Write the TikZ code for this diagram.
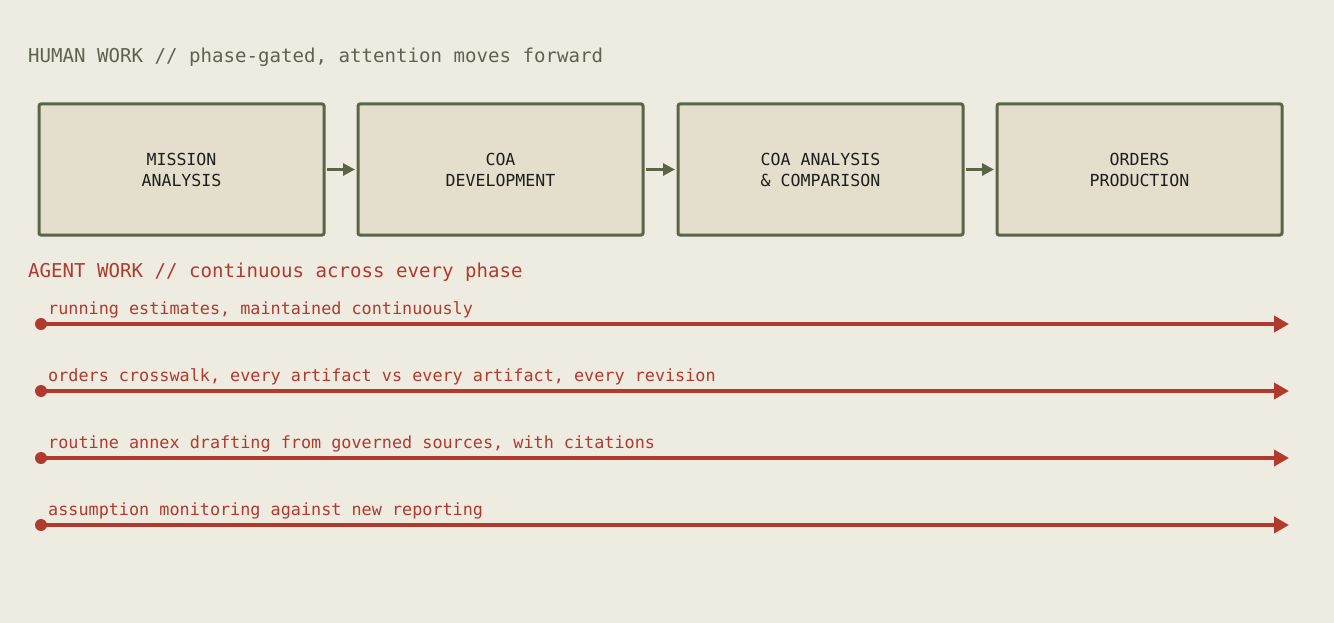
\documentclass[tikz,border=0pt]{standalone}
\usepackage{fontspec}
\setmonofont{DejaVu Sans Mono}
\usetikzlibrary{arrows.meta}
\definecolor{bg}{HTML}{EEEBE0}
\definecolor{boxfill}{HTML}{E3DFCC}
\definecolor{olive}{HTML}{5C6448}
\definecolor{headgray}{HTML}{5E6350}
\definecolor{agentred}{HTML}{B03A2E}
\definecolor{ink}{HTML}{1E1E1A}
\tikzset{
  phasebox/.style={draw=olive, fill=boxfill, line width=3pt, rounded corners=2pt,
    minimum width=285pt, minimum height=131pt, inner sep=0pt,
    font=\ttfamily\fontsize{16.6}{21}\selectfont, text=ink, align=center},
  phasearrow/.style={draw=olive, line width=3pt, -{Triangle[length=12pt,width=12pt]}},
  headtext/.style={anchor=west, inner sep=0pt, font=\ttfamily\fontsize{19.1}{22}\selectfont},
  agentlabel/.style={anchor=west, inner sep=0pt, text=agentred, font=\ttfamily\fontsize{16.8}{20}\selectfont},
  agentline/.style={draw=agentred, line width=4.2pt, -{Triangle[length=15pt,width=16pt]}},
  startdot/.style={circle, fill=agentred, minimum size=12pt, inner sep=0pt},
}
\begin{document}
\begin{tikzpicture}[x=1pt,y=-1pt]
\fill[bg] (0,0) rectangle (1334,623);
\useasboundingbox (0,0) rectangle (1334,623);
\node[headtext, text=headgray] (humanhead) at (28,57) {HUMAN WORK // phase-gated, attention moves forward};
\node[phasebox] (b1) at (181.5,169.5) {MISSION\\ANALYSIS};
\node[phasebox] (b2) at (500.5,169.5) {COA\\DEVELOPMENT};
\node[phasebox] (b3) at (820.5,169.5) {COA ANALYSIS\\\& COMPARISON};
\node[phasebox] (b4) at (1139.5,169.5) {ORDERS\\PRODUCTION};
\draw[phasearrow] (b1.east) ++(1.5,0) -- ([xshift=-1.5pt]b2.west);
\draw[phasearrow] (b2.east) ++(1.5,0) -- ([xshift=-1.5pt]b3.west);
\draw[phasearrow] (b3.east) ++(1.5,0) -- ([xshift=-1.5pt]b4.west);
\node[headtext, text=agentred] (agenthead) at (28,272) {AGENT WORK // continuous across every phase};
\foreach \i/\y/\t in {1/324/{running estimates, maintained continuously},
                      2/391/{orders crosswalk, every artifact vs every artifact, every revision},
                      3/458/{routine annex drafting from governed sources, with citations},
                      4/525/{assumption monitoring against new reporting}} {
  \node[startdot] (s\i) at (41,\y) {};
  \coordinate (e\i) at (1289,\y);
  \draw[agentline] (s\i.center) -- (e\i);
  \node[agentlabel] (l\i) at (48,\y-14) {\t};
}
\end{tikzpicture}
\end{document}
